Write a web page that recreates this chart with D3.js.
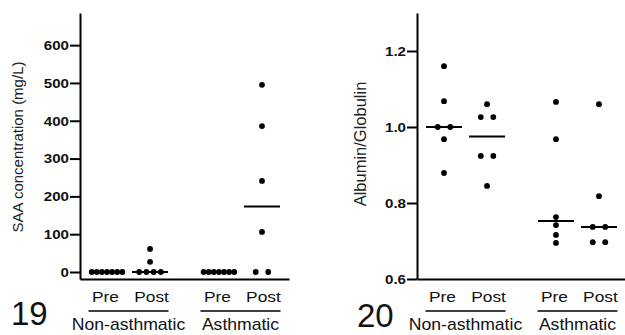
<!DOCTYPE html>
<html lang="en">
<head>
  <meta charset="UTF-8" />
  <title>SAA and Albumin/Globulin scatter</title>
  <style>
    body { margin: 0; background: #fff; overflow: hidden; }
    svg { position: absolute; top: 0; left: 0; font-family: "Liberation Sans", Arial, sans-serif; }
    .axis path, .axis line { stroke: #000; stroke-width: 2px; }
    .axis text { font-size: 13.5px; font-weight: bold; fill: #111; }
  </style>
</head>
<body>

<svg id="chart"></svg>

<script src="https://d3js.org/d3.v7.min.js"></script>
<script>
  const width = 625, height = 335;

  // column and cohort labels
  const columns = ["Pre", "Post", "Pre", "Post"];
  const cohorts = ["Non-asthmatic", "Asthmatic"];

  // Fig 19: SAA concentration (mg/L)
  const saaNonPre  = [0, 0, 0, 0, 0, 0, 0];
  const saaNonPost = [0, 0, 0, 0, 27, 61];
  const saaAsPre   = [0, 0, 0, 0, 0, 0, 0];
  const saaAsPost  = [0, 0, 106, 241, 386, 495];
  const saaTicks   = [0, 100, 200, 300, 400, 500, 600];

  // Fig 20: Albumin/Globulin ratio
  const agNonPre  = [1.16, 1.068, 1.0, 1.0, 0.968, 0.879];
  const agNonPost = [1.06, 1.026, 1.026, 0.924, 0.924, 0.845];
  const agAsPre   = [1.066, 0.968, 0.763, 0.742, 0.716, 0.695];
  const agAsPost  = [1.06, 0.818, 0.737, 0.737, 0.697, 0.697];
  const agTicks   = [0.6, 0.8, 1.0, 1.2];

  const svg = d3.select("#chart").attr("width", width).attr("height", height);

  const stretch = 1.12; // the printed labels are a bit wide

  function wideText(g, x, y, str, size, sx) {
    return g.append("text")
      .attr("transform", `translate(${x},${y}) scale(${sx || stretch},1)`)
      .attr("text-anchor", "middle")
      .style("font-size", size + "px")
      .style("fill", "#111")
      .text(str);
  }

  function drawPanel(p) {
    const g = svg.append("g");
    const top = 13, bottom = 279;

    const y = d3.scaleLinear().domain(p.domain).range([bottom, top]);
    const slot = i => i + (i >= 2 ? 0.6 : 0);
    const x = d3.scaleLinear().domain([0, 3.6]).range([p.x0 + 27, p.x0 + 182]);

    // y axis
    g.append("g")
      .attr("class", "axis")
      .attr("transform", `translate(${p.x0},0)`)
      .call(d3.axisLeft(y).tickValues(p.ticks).tickFormat(p.format)
        .tickSize(10).tickSizeOuter(0).tickPadding(1))
      .call(a => a.selectAll("text").attr("font-family", null)
        .attr("transform", `scale(${stretch},1)`)
        .attr("x", -11 / stretch));

    // x axis (no ticks)
    const xa = d3.scaleLinear().domain([0, 1]).range([0, 209]);
    g.append("g")
      .attr("class", "axis")
      .attr("transform", `translate(${p.x0},${bottom})`)
      .call(d3.axisBottom(xa).tickValues([]).tickSizeOuter(0));

    // points, dodged sideways when values coincide
    p.series.forEach((vals, i) => {
      const cx = x(slot(i));
      const counts = d3.rollup(vals, v => v.length, v => v);
      const seen = new Map();
      const pts = vals.map(v => {
        const n = counts.get(v);
        const k = seen.get(v) || 0;
        seen.set(v, k + 1);
        const step = n > 1 ? 12.5 / Math.sqrt(n - 1) : 0;
        return { v, dx: (k - (n - 1) / 2) * step };
      });

      g.selectAll(null)
        .data(pts)
        .enter()
        .append("circle")
        .attr("cx", d => cx + d.dx)
        .attr("cy", d => y(d.v))
        .attr("r", 2.9)
        .attr("fill", "#000");

      const med = d3.median(vals);
      g.append("line")
        .attr("x1", cx - 18).attr("x2", cx + 18)
        .attr("y1", y(med)).attr("y2", y(med))
        .attr("stroke", "#000").attr("stroke-width", 2);
    });

    // column and cohort labels
    cohorts.forEach((c, ci) => {
      const mid = (x(slot(2 * ci)) + x(slot(2 * ci + 1))) / 2;
      wideText(g, mid - 23, 302, columns[2 * ci], 15.5);
      wideText(g, mid + 23, 302, columns[2 * ci + 1], 15.5);
      g.append("line")
        .attr("x1", mid - 40).attr("x2", mid + 40)
        .attr("y1", 311).attr("y2", 311)
        .attr("stroke", "#000").attr("stroke-width", 1.6);
      wideText(g, mid, 330, c, 16, 1.1);
    });

    // y label
    g.append("text")
      .attr("transform", `translate(${p.labelX},${p.labelY}) rotate(-90)`)
      .attr("text-anchor", "middle")
      .style("font-size", p.labelSize + "px")
      .style("fill", "#222")
      .text(p.label);

    // figure number
    g.append("text")
      .attr("x", p.numX).attr("y", p.numY)
      .style("font-size", "33px")
      .style("fill", "#111")
      .text(p.num);
  }

  drawPanel({
    x0: 80,
    domain: [-18.5, 685],
    ticks: saaTicks,
    format: d3.format("d"),
    series: [saaNonPre, saaNonPost, saaAsPre, saaAsPost],
    label: "SAA concentration (mg/L)",
    labelX: 23, labelY: 147, labelSize: 15,
    num: "19", numX: 11, numY: 325
  });

  drawPanel({
    x0: 417,
    domain: [0.6, 1.3],
    ticks: agTicks,
    format: d3.format(".1f"),
    series: [agNonPre, agNonPost, agAsPre, agAsPost],
    label: "Albumin/Globulin",
    labelX: 366, labelY: 144, labelSize: 16.5,
    num: "20", numX: 357, numY: 327
  });
</script>

</body>
</html>
